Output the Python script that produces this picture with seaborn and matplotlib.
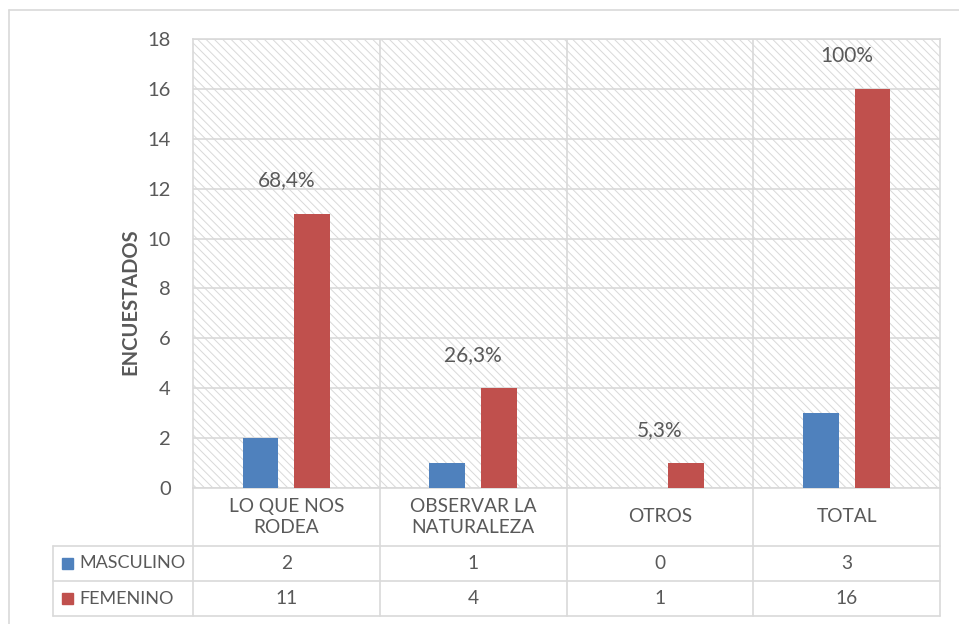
import numpy as np
import pandas as pd
import matplotlib.pyplot as plt
from matplotlib.lines import Line2D
from matplotlib.patches import Rectangle
import seaborn as sns

# datos
categorias = ['LO QUE NOS\nRODEA', 'OBSERVAR LA\nNATURALEZA', 'OTROS', 'TOTAL']
masculino = [2, 1, 0, 3]
femenino = [11, 4, 1, 16]
porcentajes = ['68,4%', '26,3%', '5,3%', '100%']
series = ['MASCULINO', 'FEMENINO']
colores = ['#4F81BD', '#C0504D']

df = pd.DataFrame({
    'cat': categorias * 2,
    'sexo': ['MASCULINO'] * 4 + ['FEMENINO'] * 4,
    'valor': masculino + femenino,
})

sns.set_style('white')
plt.rcParams['font.family'] = ['Lato', 'DejaVu Sans']
plt.rcParams['hatch.color'] = '#d9d9d9'
plt.rcParams['hatch.linewidth'] = 0.7

txt = '#595959'
gris = '#d9d9d9'

fig = plt.figure(figsize=(9.59, 6.24), dpi=100)
W, H = 959, 624
ax = fig.add_axes([193 / W, 1 - 488 / H, (940 - 193) / W, (488 - 39) / H])

# fondo rayado
ax.patch.set_facecolor('white')
ax.patch.set_hatch('\\\\\\\\')
ax.patch.set_edgecolor(gris)
ax.patch.set_linewidth(0)

sns.barplot(data=df, x='cat', y='valor', hue='sexo', palette=colores,
            width=0.556, gap=0.31, ax=ax, legend=False, saturation=1,
            errorbar=None, linewidth=0, zorder=3)

ax.set_ylim(0, 18)
ax.set_xlim(-0.5, 3.5)
ax.set_yticks(range(0, 19, 2))
ax.set_xticks([])
ax.set_xticks([0.5, 1.5, 2.5], minor=True)
ax.tick_params(axis='x', which='both', length=0, labelbottom=False)
ax.tick_params(axis='y', length=0, pad=16, labelsize=14.5, labelcolor=txt)
ax.grid(axis='y', color=gris, linewidth=1.2, zorder=1)
ax.grid(axis='x', which='minor', color=gris, linewidth=1.2, zorder=1)
ax.set_axisbelow(True)
for s in ax.spines.values():
    s.set_color(gris)
    s.set_linewidth(1.2)
ax.set_xlabel('')
ax.set_ylabel('ENCUESTADOS', fontsize=14.5, fontweight='bold', color=txt)
ax.yaxis.set_label_coords(-0.084, 0.414)
ax.yaxis.label.set_va('center')

# etiquetas de porcentaje
for i, (f, p) in enumerate(zip(femenino, porcentajes)):
    ax.annotate(p, (i, f), xytext=(0, 24), textcoords='offset points',
                ha='center', va='center', fontsize=15, color=txt)

# tabla de datos
tr = ax.get_xaxis_transform()
y_fila = [0, -58 / 449, -93 / 449, -128 / 449]
x_izq = -0.5 - 140 / 186.75
kw = dict(color=gris, linewidth=1.2, clip_on=False, transform=tr)
for y in y_fila[1:]:
    ax.add_line(Line2D([x_izq, 3.5], [y, y], **kw))
for x in [-0.5, 0.5, 1.5, 2.5, 3.5]:
    ax.add_line(Line2D([x, x], [0, y_fila[-1]], **kw))
ax.add_line(Line2D([x_izq, x_izq], [y_fila[1], y_fila[-1]], **kw))

for i, c in enumerate(categorias):
    ax.text(i, (y_fila[0] + y_fila[1]) / 2, c, transform=tr, ha='center',
            va='center', fontsize=13.8, color=txt, linespacing=1.25)
for r, (nombre, vals, col) in enumerate(zip(series, [masculino, femenino], colores)):
    yc = (y_fila[r + 1] + y_fila[r + 2]) / 2
    for i, v in enumerate(vals):
        ax.text(i, yc, str(v), transform=tr, ha='center', va='center',
                fontsize=13.8, color=txt)
    ax.add_patch(Rectangle((x_izq + 0.048, yc - 0.0125), 0.059, 0.025,
                           transform=tr, color=col, clip_on=False))
    ax.text(x_izq + 0.14, yc, nombre, transform=tr, ha='left', va='center',
            fontsize=13, color=txt)

# borde del grafico
fig.add_artist(Line2D([9 / W, 9 / W], [0, 1 - 10 / H], color=gris, linewidth=1.2))
fig.add_artist(Line2D([9 / W, 1], [1 - 10 / H, 1 - 10 / H], color=gris, linewidth=1.2))

fig.savefig('out.png', dpi=100)
